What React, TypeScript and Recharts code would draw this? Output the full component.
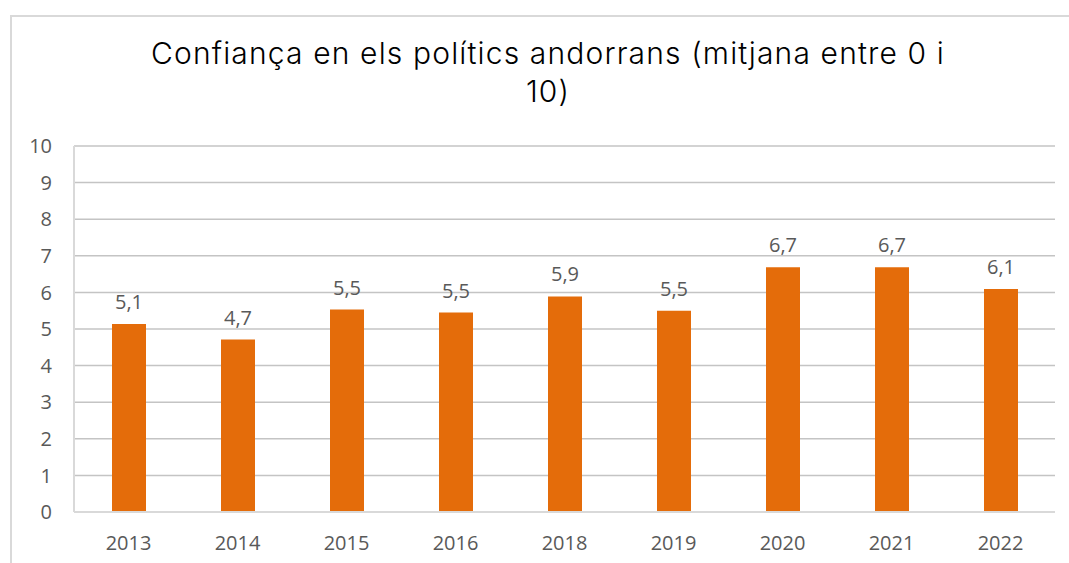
import { Bar, BarChart, CartesianGrid, LabelList, XAxis, YAxis } from 'recharts';

const YEARS = ['2013', '2014', '2015', '2016', '2018', '2019', '2020', '2021', '2022'];
const MEANS = [5.14, 4.71, 5.53, 5.45, 5.89, 5.5, 6.69, 6.69, 6.09];
const MEAN_LABELS = ['5,1', '4,7', '5,5', '5,5', '5,9', '5,5', '6,7', '6,7', '6,1'];
const Y_TICKS = [0, 1, 2, 3, 4, 5, 6, 7, 8, 9, 10];

const BAR_COLOR = '#E46C0A';
const TEXT_COLOR = '#595959';
const FONT = '"Open Sans", sans-serif';

const data = YEARS.map((year, i) => ({ year, mean: MEANS[i], label: MEAN_LABELS[i] }));

export default function App() {
  return (
    <div style={{ position: 'absolute', left: 0, top: 0, width: 1069, height: 563, background: '#fff', overflow: 'hidden' }}>
      <div
        style={{
          position: 'absolute',
          left: 10,
          top: 15,
          width: 1100,
          height: 600,
          border: '2px solid #d9d9d9',
        }}
      />
      <div
        style={{
          position: 'absolute',
          left: 0,
          top: 34,
          width: 1096,
          textAlign: 'center',
          fontFamily: 'Inter, sans-serif',
          fontWeight: 300,
          letterSpacing: 1.15,
          fontSize: 30,
          lineHeight: '38px',
          color: '#000',
        }}
      >
        Confiança en els polítics andorrans (mitjana entre 0 i
        <br />
        10)
      </div>
      <div style={{ position: 'absolute', left: 0, top: 0 }}>
        <BarChart
          width={1069}
          height={563}
          data={data}
          margin={{ top: 146, right: 14, bottom: 0, left: 0 }}
        >
          <CartesianGrid vertical={false} stroke="#c4c4c4" strokeWidth={1.5} />
          <XAxis
            dataKey="year"
            height={51}
            tickLine={false}
            tickMargin={18}
            axisLine={{ stroke: '#d9d9d9', strokeWidth: 2 }}
            tick={{ fill: TEXT_COLOR, fontSize: 20, fontFamily: FONT }}
          />
          <YAxis
            width={74}
            domain={[0, 10]}
            ticks={Y_TICKS}
            interval={0}
            tickLine={false}
            tickMargin={16}
            axisLine={{ stroke: '#d9d9d9', strokeWidth: 2 }}
            tick={{ fill: TEXT_COLOR, fontSize: 20, fontFamily: FONT }}
          />
          <YAxis
            yAxisId="right"
            orientation="right"
            width={0}
            domain={[0, 10]}
            tick={false}
            tickLine={false}
            axisLine={{ stroke: '#d9d9d9', strokeWidth: 2 }}
          />
          <Bar dataKey="mean" fill={BAR_COLOR} barSize={34} isAnimationActive={false}>
            <LabelList
              dataKey="label"
              position="top"
              offset={15}
              fill={TEXT_COLOR}
              fontSize={20}
              fontFamily={FONT}
            />
          </Bar>
        </BarChart>
      </div>
    </div>
  );
}
